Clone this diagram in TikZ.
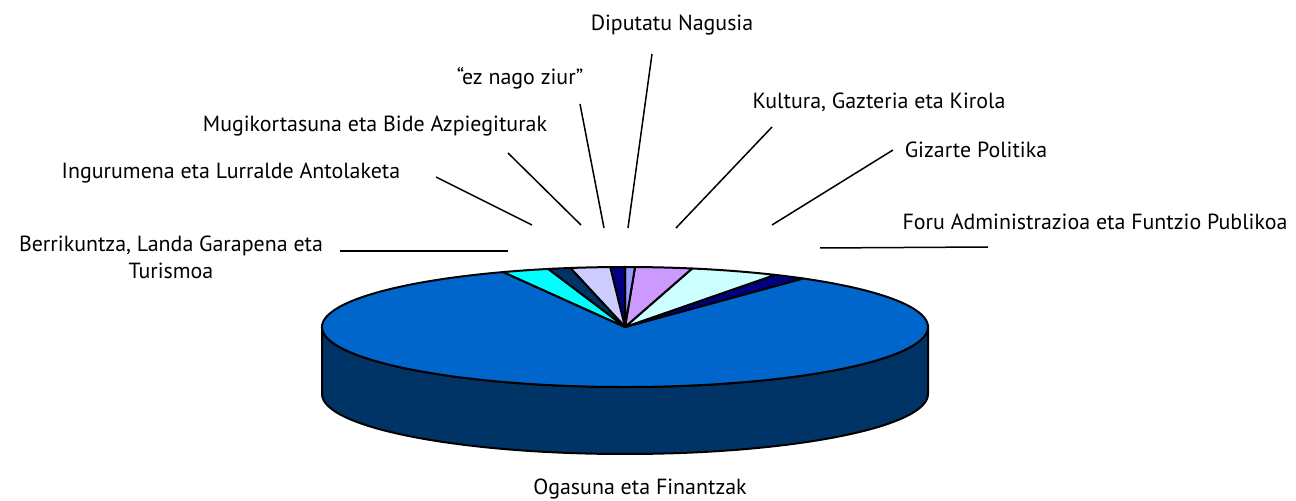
\documentclass[tikz,border=0pt]{standalone}
\usepackage{fontspec}
\setmainfont{PT Sans}
\usepackage{tikz}

\definecolor{ogasun}{HTML}{0066CC}
\definecolor{sidecol}{HTML}{003366}
\definecolor{berri}{HTML}{00FFFF}
\definecolor{ingur}{HTML}{003366}
\definecolor{mugi}{HTML}{CCCCFF}
\definecolor{eznago}{HTML}{000080}
\definecolor{diput}{HTML}{9999FF}
\definecolor{kult}{HTML}{CC99FF}
\definecolor{gizar}{HTML}{CCFFFF}
\definecolor{foru}{HTML}{000080}

\begin{document}
\begin{tikzpicture}[x=1bp,y=-1bp]
				\tikzset{slice/.style = {draw=black, line width=2bp, line join=round},
				txt/.style = {font=\fontsize{22}{27}\selectfont, inner sep=0pt},
				leader/.style = {draw=black, line width=1.5bp}}
				
				\useasboundingbox (0,0) rectangle (1296,501);
				
				%\node[] (label_title) at (648,10) {};
				
				\coordinate (O) at (625,327);
				
				% side of the pie
				\filldraw[slice, fill=sidecol] (322,327) arc (-180:-360:303 and 60) -- ++(0,67)
				arc (-360:-180:303 and 60) -- cycle;
				
				% top of the pie
				\filldraw[slice, fill=ogasun] (O) -- ++(-113.7:303 and 60) arc (-113.7:-414:303 and 60) -- cycle;
				\filldraw[slice, fill=foru] (O) -- ++(-54:303 and 60) arc (-54:-60.3:303 and 60) -- cycle;
				\filldraw[slice, fill=gizar] (O) -- ++(-60.3:303 and 60) arc (-60.3:-77.2:303 and 60) -- cycle;
				\filldraw[slice, fill=kult] (O) -- ++(-77.2:303 and 60) arc (-77.2:-88.1:303 and 60) -- cycle;
				\filldraw[slice, fill=diput] (O) -- ++(-88.1:303 and 60) arc (-88.1:-90:303 and 60) -- cycle;
				\filldraw[slice, fill=eznago] (O) -- ++(-90:303 and 60) arc (-90:-92.8:303 and 60) -- cycle;
				\filldraw[slice, fill=mugi] (O) -- ++(-92.8:303 and 60) arc (-92.8:-100.4:303 and 60) -- cycle;
				\filldraw[slice, fill=ingur] (O) -- ++(-100.4:303 and 60) arc (-100.4:-104.7:303 and 60) -- cycle;
				\filldraw[slice, fill=berri] (O) -- ++(-104.7:303 and 60) arc (-104.7:-113.7:303 and 60) -- cycle;
				
				% labels
				\node[txt] (label_dip) at (672,25) {Diputatu Nagusia};
				\node[txt] (label_ez) at (520,78) {“ez nago ziur”};
				\node[txt] (label_mugi) at (375,126) {Mugikortasuna eta Bide Azpiegiturak};
				\node[txt] (label_ingur) at (231,173) {Ingurumena eta Lurralde Antolaketa};
				\node[txt, align=center] (label_berri) at (171,257) {Berrikuntza, Landa Garapena eta\\Turismoa};
				\node[txt] (label_kult) at (879,102) {Kultura, Gazteria eta Kirola};
				\node[txt] (label_gizar) at (976,150) {Gizarte Politika};
				\node[txt] (label_foru) at (1095,222) {Foru Administrazioa eta Funtzio Publikoa};
				\node[txt] (label_ogas) at (640,489) {Ogasuna eta Finantzak};
				
				% leader lines
				\coordinate (dip_a) at (652,54);   \coordinate (dip_b) at (628,228);
				\coordinate (ez_a) at (580,104);   \coordinate (ez_b) at (604,228);
				\coordinate (mugi_a) at (508,153); \coordinate (mugi_b) at (581,225);
				\coordinate (ingur_a) at (436,177); \coordinate (ingur_b) at (532,225);
				\coordinate (berri_a) at (340,251); \coordinate (berri_b) at (508,251);
				\coordinate (kult_a) at (772,127); \coordinate (kult_b) at (676,228);
				\coordinate (gizar_a) at (893,150); \coordinate (gizar_b) at (772,225);
				\coordinate (foru_a) at (988,247); \coordinate (foru_b) at (820,248);
				
				\draw[leader] (dip_a) to (dip_b);
				\draw[leader] (ez_a) to (ez_b);
				\draw[leader] (mugi_a) to (mugi_b);
				\draw[leader] (ingur_a) to (ingur_b);
				\draw[leader] (berri_a) to (berri_b);
				\draw[leader] (kult_a) to (kult_b);
				\draw[leader] (gizar_a) to (gizar_b);
				\draw[leader] (foru_a) to (foru_b);
				
			\end{tikzpicture}
\end{document}
